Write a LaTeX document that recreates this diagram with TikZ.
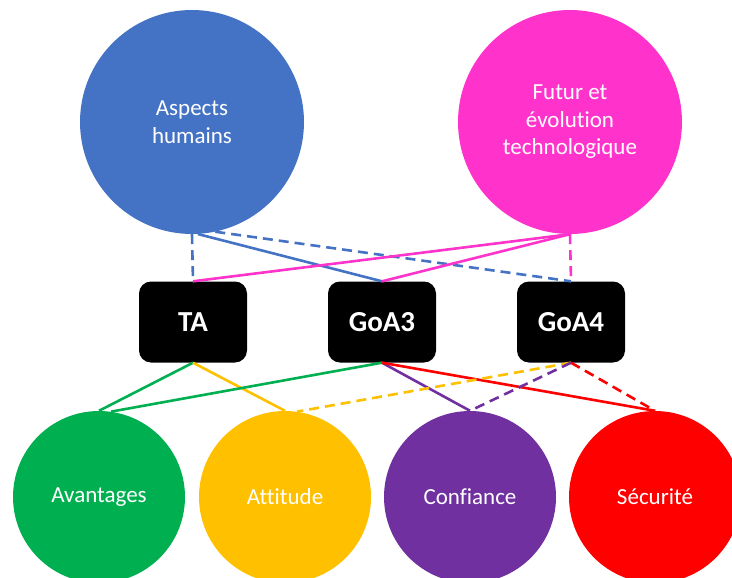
\documentclass[tikz,border=0pt]{standalone}
\usepackage{fontspec}
\setmainfont{Carlito}[Ligatures={NoCommon}]
\usepackage{xcolor}
\usetikzlibrary{positioning}

\definecolor{humBlue}{HTML}{4472C4}
\definecolor{futPink}{HTML}{FF33CC}
\definecolor{advGreen}{HTML}{00B050}
\definecolor{attYellow}{HTML}{FFC000}
\definecolor{confPurple}{HTML}{7030A0}
\definecolor{secRed}{HTML}{FF0000}

\begin{document}
\begin{tikzpicture}[x=1pt, y=-1pt,
    topic/.style={circle, fill=#1, text=white, inner sep=0pt, minimum size=224pt, align=center, font=\fontsize{23}{27.5}\selectfont},
    facet/.style={circle, fill=#1, text=white, inner sep=0pt, minimum size=172pt, font=\fontsize{23}{27.5}\selectfont},
    gradebox/.style={fill=black, text=white, rounded corners=12pt, minimum width=108pt, minimum height=81pt, inner sep=0pt, font=\fontsize{29}{34}\selectfont\bfseries},
    link/.style={draw=#1, line width=2.6pt},
    maybe/.style={draw=#1, line width=2.6pt, dash pattern=on 10pt off 6pt}]

      \clip (0, 0) rectangle (732, 578);

      \node[topic=humBlue] (humains) at (192, 122) {Aspects\\humains};
      \node[topic=futPink] (futur) at (570, 122) {Futur et\\évolution\\technologique};

      \node[gradebox] (ta) at (193, 322) {TA};
      \node[gradebox] (goa3) at (382, 322) {GoA3};
      \node[gradebox] (goa4) at (571, 322) {GoA4};

      \node[facet=advGreen] (avantages) at (99, 497) {Avantages};
      \node[facet=attYellow] (attitude) at (285, 497) {Attitude};
      \node[facet=confPurple] (confiance) at (470, 497) {Confiance};
      \node[facet=secRed] (securite) at (655, 497) {Sécurité};

      \draw[maybe=humBlue] (humains.south) -- (ta.north);
      \draw[link=humBlue] (humains.-87) -- (goa3.north);
      \draw[maybe=humBlue] (humains.-78) -- (goa4.north);
      \draw[link=futPink] (futur.south) -- (ta.north);
      \draw[link=futPink] (futur.south) -- (goa3.north);
      \draw[maybe=futPink] (futur.south) -- (goa4.north);

      \draw[link=advGreen] (ta.south) -- (avantages.north);
      \draw[link=attYellow] (ta.south) -- (attitude.north);
      \draw[link=advGreen] (goa3.south) -- (avantages.82);
      \draw[link=confPurple] (goa3.south) -- (confiance.north);
      \draw[link=secRed] (goa3.south) -- (securite.north);
      \draw[maybe=attYellow] (goa4.south) -- (attitude.82);
      \draw[maybe=confPurple] (goa4.south) -- (confiance.north);
      \draw[maybe=secRed] (goa4.south) -- (securite.north);

    \end{tikzpicture}
\end{document}
